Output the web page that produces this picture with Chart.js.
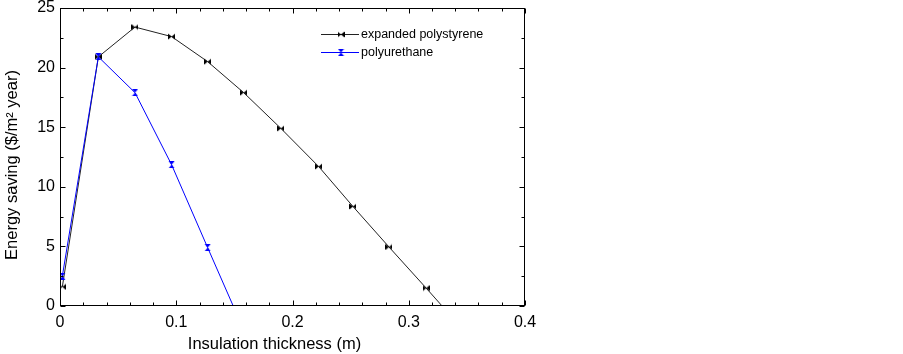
<!DOCTYPE html>
<html lang="en">
<head>
<meta charset="UTF-8">
<title>Energy saving vs insulation thickness</title>
<script src="https://cdn.jsdelivr.net/npm/chart.js@4.4.1/dist/chart.umd.min.js"></script>
<style>
  html, body { margin: 0; padding: 0; background: #ffffff; }
  #wrap { width: 903px; height: 354px; }
</style>
</head>
<body>
<div id="wrap"><canvas id="chart" width="903" height="354"></canvas></div>
<script>
// values
const epsThickness = [0.002, 0.033, 0.0645, 0.096, 0.127, 0.158, 0.19, 0.2225, 0.252, 0.283, 0.315, 0.346];
const epsSaving    = [1.6, 20.9, 23.4, 22.6, 20.5, 17.9, 14.9, 11.7, 8.35, 4.95, 1.5, -1.9];
const puThickness  = [0.002, 0.033, 0.0645, 0.096, 0.127, 0.158];
const puSaving     = [2.5, 20.9, 17.9, 11.85, 4.9, -2.0];
const xTicks = [0, 0.1, 0.2, 0.3, 0.4];
const yTicks = [0, 5, 10, 15, 20, 25];
const xTitle = 'Insulation thickness (m)';
const yTitle = 'Energy saving ($/m\u00B2 year)';

Chart.defaults.font.family = '"Liberation Sans", Arial, sans-serif';
Chart.defaults.font.size = 16;
Chart.defaults.color = '#000000';

// small marker images: bowtie (sideways) and hourglass (upright)
function makeMarker(color, sideways) {
    const c = document.createElement('canvas');
    c.width = 7; c.height = 7;
    const g = c.getContext('2d');
    g.fillStyle = color;
    g.beginPath();
    if (sideways) {
        g.moveTo(0, 0.5); g.lineTo(3.5, 3.5); g.lineTo(0, 6.5); g.closePath();
        g.moveTo(7, 0.5); g.lineTo(3.5, 3.5); g.lineTo(7, 6.5); g.closePath();
    } else {
        g.moveTo(0.5, 0); g.lineTo(3.5, 3.5); g.lineTo(6.5, 0); g.closePath();
        g.moveTo(0.5, 7); g.lineTo(3.5, 3.5); g.lineTo(6.5, 7); g.closePath();
    }
    g.fill();
    return c;
}

const toPoints = (xs, ys) => xs.map((x, i) => ({ x: x, y: ys[i] }));

// box around the plot with inward ticks on all four sides
const frameTicks = {
    id: 'frameTicks',
    afterDatasetsDraw(chart) {
        const { ctx, chartArea: a, scales: { x, y } } = chart;
        const L = Math.round(a.left) + 0.5, R = Math.round(a.right) - 0.5;
        const T = Math.round(a.top) + 0.5, B = Math.round(a.bottom) - 0.5;
        ctx.save();
        ctx.strokeStyle = '#000000';
        ctx.lineWidth = 1;
        ctx.strokeRect(L, T, R - L, B - T);
        ctx.beginPath();
        for (let k = 0; k <= 20; k++) {
            const px = Math.round(x.getPixelForValue(k * 0.02)) + 0.5;
            const len = k % 5 === 0 ? 5 : 3;
            ctx.moveTo(px, B); ctx.lineTo(px, B - len);
            ctx.moveTo(px, T); ctx.lineTo(px, T + len);
        }
        for (let k = 0; k <= 10; k++) {
            const py = Math.round(y.getPixelForValue(k * 2.5)) + 0.5;
            const len = k % 2 === 0 ? 5 : 3;
            ctx.moveTo(L, py); ctx.lineTo(L + len, py);
            ctx.moveTo(R, py); ctx.lineTo(R - len, py);
        }
        ctx.stroke();
        ctx.restore();
    }
};

// axis titles, placed where the original had them
const axisTitles = {
    id: 'axisTitles',
    afterDraw(chart) {
        const { ctx, chartArea: a } = chart;
        ctx.save();
        ctx.fillStyle = '#000000';
        ctx.font = '16.5px "Liberation Sans", Arial, sans-serif';
        ctx.textAlign = 'center';
        ctx.textBaseline = 'alphabetic';
        ctx.fillText(xTitle, (a.left + a.right) / 2 - 18, 349);
        ctx.translate(16.5, (a.top + a.bottom) / 2 + 8);
        ctx.rotate(-Math.PI / 2);
        ctx.fillText(yTitle, 0, 0);
        ctx.restore();
    }
};

// legend drawn inside the plot, upper right
const insideLegend = {
    id: 'insideLegend',
    afterDraw(chart) {
        const ctx = chart.ctx;
        ctx.save();
        ctx.font = '12.5px "Liberation Sans", Arial, sans-serif';
        ctx.textBaseline = 'middle';
        chart.data.datasets.forEach((ds, i) => {
            const yy = 34 + i * 18;
            ctx.strokeStyle = ds.borderColor;
            ctx.lineWidth = 1;
            ctx.beginPath();
            ctx.moveTo(321, yy + 0.5);
            ctx.lineTo(359, yy + 0.5);
            ctx.stroke();
            const img = ds.pointStyle;
            ctx.drawImage(img, 341 - img.width / 2, yy + 0.5 - img.height / 2);
            ctx.fillStyle = '#000000';
            ctx.fillText(ds.label, 361, yy + 1);
        });
        ctx.restore();
    }
};

const ctx = document.getElementById('chart').getContext('2d');
const chart = new Chart(ctx, {
    type: 'line',
    data: {
        datasets: [
            {
                label: 'expanded polystyrene',
                data: toPoints(epsThickness, epsSaving),
                borderColor: '#222222',
                borderWidth: 1,
                pointStyle: makeMarker('#000000', true),
                pointRadius: 4,
                tension: 0,
                order: 1
            },
            {
                label: 'polyurethane',
                data: toPoints(puThickness, puSaving),
                borderColor: '#0000ff',
                borderWidth: 1,
                pointStyle: makeMarker('#0000ff', false),
                pointRadius: 4,
                tension: 0,
                order: 0
            }
        ]
    },
    options: {
        responsive: false,
        animation: false,
        layout: { padding: { left: 0, top: 8, right: 378, bottom: 0 } },
        plugins: {
            legend: { display: false },
            tooltip: { enabled: false }
        },
        scales: {
            x: {
                type: 'linear',
                min: 0,
                max: 0.4,
                afterFit: s => { s.height = 48; s.paddingLeft = 0; s.paddingRight = 0; },
                afterBuildTicks: s => { s.ticks = xTicks.map(v => ({ value: v })); },
                grid: { display: false, drawTicks: false },
                border: { display: false },
                ticks: {
                    padding: 7,
                    maxRotation: 0,
                    callback: v => (v === 0 ? '0' : v.toFixed(1))
                }
            },
            y: {
                type: 'linear',
                min: 0,
                max: 25,
                afterFit: s => { s.width = 60; s.paddingTop = 0; s.paddingBottom = 0; },
                afterBuildTicks: s => { s.ticks = yTicks.map(v => ({ value: v })); },
                grid: { display: false, drawTicks: false },
                border: { display: false },
                ticks: { padding: 5 }
            }
        }
    },
    plugins: [frameTicks, axisTitles, insideLegend]
});
</script>
</body>
</html>
